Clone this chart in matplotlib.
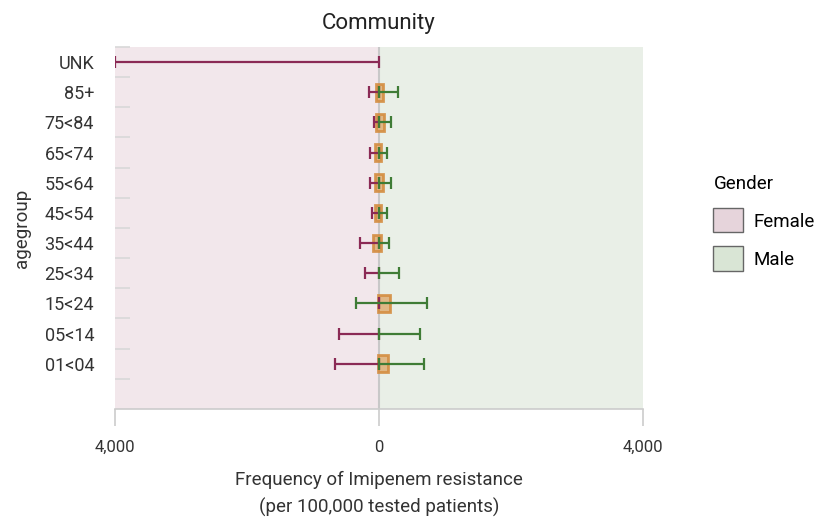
import numpy as np
import matplotlib
matplotlib.use("Agg")
from matplotlib import pyplot as plt
from matplotlib.patches import Patch

plt.rcParams['font.family'] = ['Roboto', 'DejaVu Sans']

agegroups = ['UNK', '85+', '75<84', '65<74', '55<64', '45<54', '35<44', '25<34', '15<24', '05<14', '01<04']
# confidence intervals per gender (females drawn on the left side)
female_lo = [0, 0, 0, 0, 0, 0, 0, 0, 0, 0, 0]
female_hi = [4000, 150, 70, 130, 130, 110, 290, 215, 0, 600, 670]
male_lo = [np.nan, 0, 0, 0, 0, 0, 0, 0, -350, 0, 0]
male_hi = [np.nan, 290, 180, 125, 180, 120, 150, 300, 730, 620, 680]
# estimate box extent
est_lo = [np.nan, -45, -45, -60, -60, -60, -90, np.nan, -15, np.nan, -15]
est_hi = [np.nan, 60, 75, 30, 60, 30, 30, np.nan, 165, np.nan, 135]

female_col = '#8b2a55'
male_col = '#3f7c36'
txt_col = '#333333'

fig = plt.figure(figsize=(8.19, 5.22), dpi=100)
ax = fig.add_axes([0.1404, 0.2165, 0.6447, 0.6935])

n = len(agegroups)
ypos = np.arange(n, 0, -1)

ax.axvspan(-4000, 0, color='#f2e7eb', zorder=0)
ax.axvspan(0, 4000, color='#e9efe7', zorder=0)
ax.axvline(0, color='#c8c8c8', lw=1.5, zorder=1)

flo = -np.array(female_lo, dtype=float)
fhi = -np.array(female_hi, dtype=float)
ax.errorbar(np.zeros(n), ypos, xerr=[flo - fhi, np.zeros(n)], fmt='none',
            ecolor=female_col, elinewidth=1.6, capsize=4, capthick=1.6, zorder=3)

mlo = np.array(male_lo, dtype=float)
mhi = np.array(male_hi, dtype=float)
ok = ~np.isnan(mlo)
ax.errorbar(np.zeros(ok.sum()), ypos[ok], xerr=[-mlo[ok], mhi[ok]], fmt='none',
            ecolor=male_col, elinewidth=1.6, capsize=4, capthick=1.6, zorder=4)

elo = np.array(est_lo, dtype=float)
ehi = np.array(est_hi, dtype=float)
ok = ~np.isnan(elo)
ax.barh(ypos[ok], ehi[ok] - elo[ok], left=elo[ok], height=0.55,
        facecolor='#dfae74', edgecolor='#d3893a', linewidth=2, alpha=0.85, zorder=2)

ax.set_xlim(-4000, 4000)
ax.set_ylim(-0.5, n + 0.5)
ax.set_yticks(ypos)
ax.set_yticklabels(agegroups, fontsize=13, color=txt_col)
ax.set_yticks(np.arange(0.5, n + 0.6, 1), minor=True)
ax.tick_params(axis='y', which='major', length=0, pad=15)
ax.tick_params(axis='y', which='minor', direction='in', length=11, color='#d8d8d8', width=1.2)

ax.set_xticks([-4000, 0, 4000])
ax.set_xticklabels(['4,000', '0', '4,000'], fontsize=12, color=txt_col)
ax.tick_params(axis='x', length=12, color='#cccccc', width=1.2, pad=10)

for s in ['top', 'right', 'left']:
    ax.spines[s].set_visible(False)
ax.spines['bottom'].set_color('#cccccc')
ax.spines['bottom'].set_linewidth(1.2)

ax.set_ylabel('agegroup', fontsize=13.5, color=txt_col, labelpad=10)
ax.set_xlabel('Frequency of Imipenem resistance\n(per 100,000 tested patients)',
              fontsize=13.5, color=txt_col, labelpad=12, linespacing=1.6)
ax.set_title('Community', fontsize=16, color='#222222', pad=13)

handles = [Patch(facecolor='#e6d4db', edgecolor='#666666', label='Female'),
           Patch(facecolor='#d9e5d5', edgecolor='#666666', label='Male')]
leg = fig.legend(handles=handles, title='Gender', loc='upper left',
                 bbox_to_anchor=(0.862, 0.679), frameon=False, fontsize=13.5,
                 title_fontsize=13.5, handlelength=1.6, handleheight=1.6,
                 labelspacing=0.75, handletextpad=0.55, borderaxespad=0)
leg._legend_box.align = 'left'
leg._legend_box.sep = 11

fig.savefig('out.png', dpi=100)
